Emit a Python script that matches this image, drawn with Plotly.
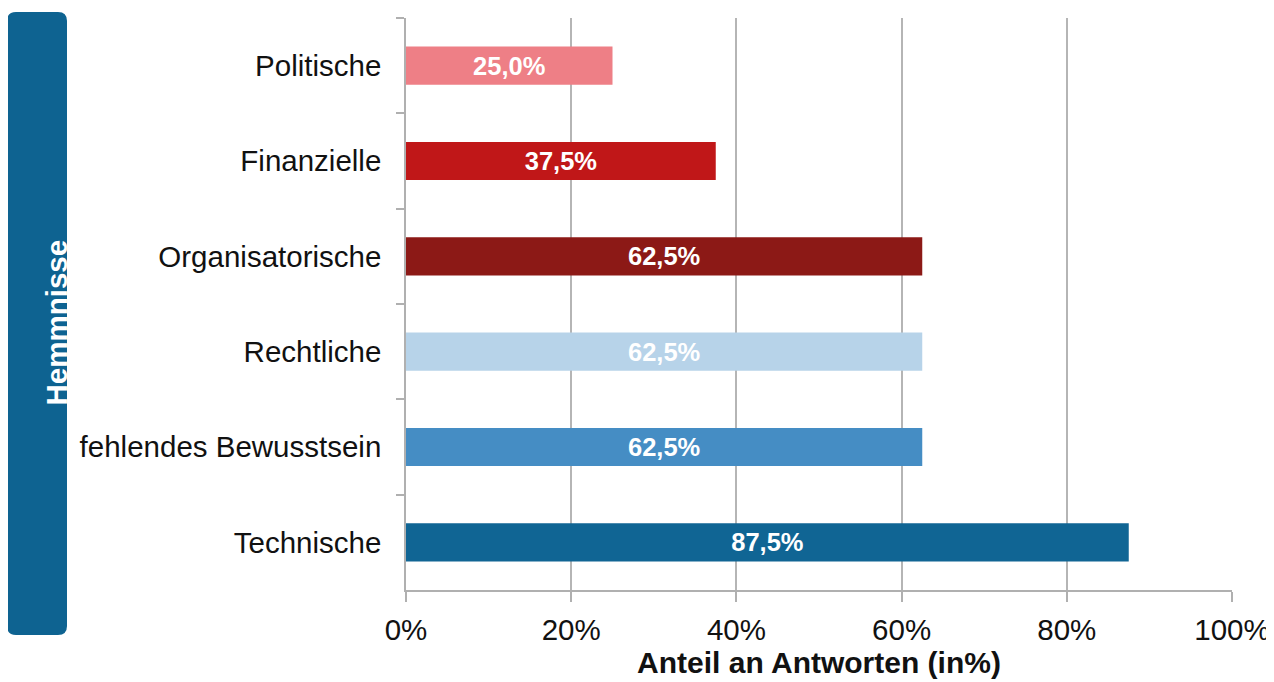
import plotly.graph_objects as go

categories = ["Politische", "Finanzielle", "Organisatorische", "Rechtliche",
              "fehlendes Bewusstsein", "Technische"]
values = [25.0, 37.5, 62.5, 62.5, 62.5, 87.5]
labels = ["25,0%", "37,5%", "62,5%", "62,5%", "62,5%", "87,5%"]
colors = ["#ee7f86", "#c01718", "#8c1916", "#b7d3e9", "#458dc4", "#106594"]
x_ticks = [0, 20, 40, 60, 80, 100]
x_ticklabels = ["0%", "20%", "40%", "60%", "80%", "100%"]

W, H = 1274, 682
# page body margin offset (~8px) compensated here
OFF = 8
L, R, T, B = 406 - OFF, 42 + OFF, 18 - OFF, 92 + OFF
pw, ph = W - L - R, H - T - B

def px(x):
    # x in screen pixels -> paper coordinate
    return (x - OFF - L) / pw

def py(y):
    return (H - B - (y - OFF)) / ph

FAM = "Liberation Sans, Arial, sans-serif"

fig = go.Figure()
fig.add_trace(go.Bar(
    y=categories, x=values, orientation="h",
    marker=dict(color=colors, line=dict(width=0)),
    width=0.4,
    text=labels, textposition="inside", insidetextanchor="middle",
    textangle=0, constraintext="none",
    textfont=dict(family=FAM, size=25.5, color="white", weight="bold"),
    hoverinfo="skip",
))

# rounded box on the left
x0, x1, y0, y1, r = 7, 67, 12, 635, 9
path = (f"M {px(x0+r)},{py(y0)} L {px(x1-r)},{py(y0)} Q {px(x1)},{py(y0)} {px(x1)},{py(y0+r)} "
        f"L {px(x1)},{py(y1-r)} Q {px(x1)},{py(y1)} {px(x1-r)},{py(y1)} "
        f"L {px(x0+r)},{py(y1)} Q {px(x0)},{py(y1)} {px(x0)},{py(y1-r)} "
        f"L {px(x0)},{py(y0+r)} Q {px(x0)},{py(y0)} {px(x0+r)},{py(y0)} Z")
fig.add_shape(type="path", path=path, xref="paper", yref="paper",
              fillcolor="#0e6391", line=dict(width=0), layer="above")
fig.add_annotation(text="<b>Hemmnisse</b>", xref="paper", yref="paper",
                   x=px(37), y=py(323), showarrow=False, textangle=-90,
                   font=dict(family=FAM, size=29.5, color="white"))

font = dict(family=FAM, size=29.5, color="#111111")
fig.update_layout(
    width=W, height=H,
    margin=dict(l=L, r=R, t=T, b=B, autoexpand=False),
    paper_bgcolor="white", plot_bgcolor="white",
    showlegend=False,
    font=font,
    xaxis=dict(
        range=[0, 100], tickvals=x_ticks, ticktext=x_ticklabels,
        showgrid=True, gridcolor="#b5b5b5", gridwidth=1.5,
        showline=True, linecolor="#b0b0b0", linewidth=1.5,
        ticks="outside", ticklen=10, tickcolor="#b0b0b0", tickwidth=1.5,
        ticklabelstandoff=3,
        zeroline=False, tickfont=font, automargin=False,
        title=dict(text="<b>Anteil an Antworten (in%)</b>", font=dict(family=FAM, size=30, color="#111111"), standoff=7),
        fixedrange=True,
    ),
    yaxis=dict(
        categoryorder="array", categoryarray=categories, autorange="reversed",
        showgrid=False, showline=True, linecolor="#b0b0b0", linewidth=1.5,
        ticks="outside", ticklen=8, tickcolor="#b0b0b0", tickwidth=1.5,
        tickson="boundaries", ticklabelstandoff=17, tickfont=font,
        automargin=False, fixedrange=True,
    ),
)

fig.write_html("out.html")
